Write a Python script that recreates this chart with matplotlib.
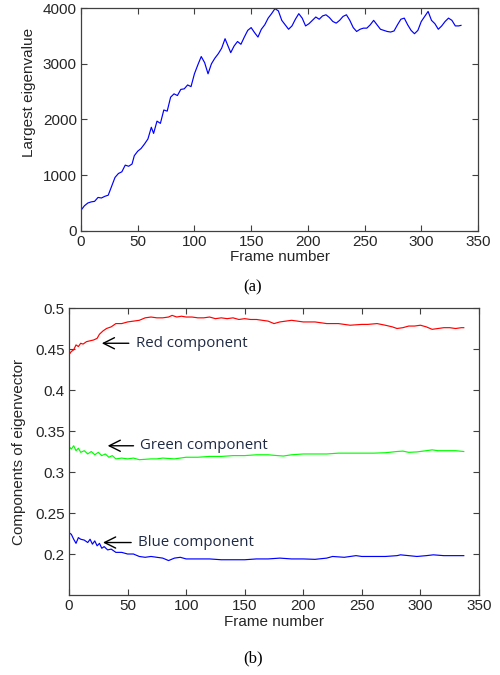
import matplotlib
matplotlib.use('Agg')
import matplotlib.pyplot as plt

plt.rcParams['font.family'] = ['Liberation Sans', 'DejaVu Sans']

# --- (a) largest eigenvalue ---
frames_a = [0, 3, 6, 9, 12, 15, 18, 21, 24, 27, 30, 33, 36, 39, 42, 45, 47, 50, 53, 56,
            59, 62, 64, 67, 70, 73, 76, 79, 82, 85, 88, 91, 94, 97, 100, 103, 106, 109, 112, 115,
            118, 121, 124, 127, 130, 132, 135, 138, 141, 144, 147, 150, 153, 156, 159, 162, 165, 168, 171, 174,
            177, 180, 183, 186, 189, 192, 195, 198, 201, 204, 207, 210, 213, 216, 219, 222, 225, 228, 231, 234,
            237, 240, 243, 246, 249, 252, 255, 258, 261, 264, 267, 270, 273, 276, 279, 282, 285, 288, 291, 294,
            297, 300, 303, 306, 309, 312, 315, 318, 321, 324, 327, 330, 333, 335]
eigval = [370, 450, 500, 520, 530, 600, 590, 620, 640, 800, 960, 1030, 1060, 1180, 1160, 1200, 1350, 1430, 1480, 1560,
          1650, 1860, 1750, 1970, 1930, 2170, 2150, 2400, 2460, 2430, 2540, 2550, 2620, 2590, 2820, 2980, 3130, 3020, 2820, 3000,
          3100, 3180, 3280, 3450, 3300, 3200, 3320, 3400, 3350, 3480, 3600, 3650, 3560, 3480, 3620, 3700, 3820, 3900, 3990, 3950,
          3780, 3700, 3620, 3680, 3800, 3900, 3820, 3680, 3720, 3780, 3840, 3800, 3860, 3880, 3830, 3760, 3730, 3780, 3850, 3880,
          3780, 3650, 3580, 3620, 3640, 3640, 3700, 3780, 3700, 3620, 3600, 3580, 3570, 3590, 3700, 3800, 3820, 3700, 3600, 3540,
          3600, 3760, 3850, 3940, 3780, 3720, 3620, 3680, 3760, 3820, 3780, 3680, 3680, 3690]

# --- (b) eigenvector components ---
frames_r = [0, 2, 4, 6, 8, 10, 12, 15, 18, 21, 24, 26, 29, 32, 36, 40, 45, 50, 55, 60,
            65, 70, 75, 80, 85, 88, 92, 96, 100, 105, 110, 115, 120, 125, 130, 135, 140, 145, 150, 155,
            160, 165, 170, 175, 180, 185, 190, 195, 200, 210, 215, 220, 230, 240, 250, 255, 263, 270, 276, 280,
            285, 290, 295, 300, 305, 310, 315, 320, 325, 330, 335, 337]
red = [0.443, 0.447, 0.449, 0.455, 0.453, 0.457, 0.456, 0.459, 0.460, 0.461, 0.463, 0.468, 0.472, 0.475, 0.477, 0.481, 0.481, 0.483, 0.484, 0.485,
       0.488, 0.489, 0.488, 0.488, 0.489, 0.491, 0.489, 0.490, 0.489, 0.489, 0.488, 0.488, 0.489, 0.487, 0.488, 0.487, 0.488, 0.486, 0.487, 0.486,
       0.486, 0.485, 0.484, 0.481, 0.483, 0.484, 0.485, 0.484, 0.483, 0.483, 0.482, 0.481, 0.481, 0.479, 0.480, 0.480, 0.481, 0.479, 0.477, 0.475,
       0.476, 0.478, 0.478, 0.479, 0.477, 0.474, 0.475, 0.476, 0.476, 0.475, 0.476, 0.476]

frames_g = [0, 2, 4, 6, 8, 10, 13, 16, 19, 22, 25, 28, 31, 34, 37, 40, 45, 50, 55, 60,
            65, 70, 75, 80, 90, 100, 110, 120, 130, 140, 150, 160, 170, 178, 183, 190, 200, 210, 220, 230,
            240, 250, 260, 270, 280, 285, 290, 297, 305, 310, 315, 320, 330, 337]
green = [0.331, 0.328, 0.332, 0.326, 0.329, 0.324, 0.326, 0.322, 0.325, 0.321, 0.324, 0.320, 0.322, 0.318, 0.320, 0.316, 0.317, 0.316, 0.317, 0.315,
         0.3155, 0.316, 0.316, 0.317, 0.316, 0.318, 0.318, 0.319, 0.319, 0.320, 0.320, 0.321, 0.321, 0.320, 0.3195, 0.321, 0.322, 0.322, 0.322, 0.323,
         0.323, 0.323, 0.323, 0.3235, 0.325, 0.3255, 0.324, 0.3245, 0.326, 0.327, 0.326, 0.326, 0.326, 0.325]

frames_b = [0, 2, 4, 6, 8, 10, 13, 16, 18, 20, 22, 24, 26, 28, 30, 33, 36, 40, 45, 50,
            55, 60, 65, 70, 75, 80, 85, 90, 95, 100, 110, 120, 130, 140, 150, 160, 170, 180, 190, 200,
            210, 220, 225, 235, 245, 250, 260, 270, 280, 283, 290, 297, 305, 311, 320, 330, 337]
blue = [0.226, 0.224, 0.218, 0.213, 0.220, 0.218, 0.217, 0.214, 0.218, 0.212, 0.216, 0.210, 0.213, 0.207, 0.209, 0.205, 0.206, 0.202, 0.202, 0.200,
        0.200, 0.197, 0.196, 0.197, 0.196, 0.195, 0.192, 0.195, 0.196, 0.194, 0.194, 0.194, 0.193, 0.193, 0.193, 0.194, 0.194, 0.195, 0.194, 0.194,
        0.1935, 0.195, 0.197, 0.196, 0.198, 0.197, 0.197, 0.197, 0.198, 0.199, 0.198, 0.197, 0.198, 0.199, 0.198, 0.198, 0.198]

# 注釈: (ラベル, 矢印の先, テキスト位置)
notes = [('Red component', (28, 0.457), (57, 0.457)),
         ('Green component', (33, 0.332), (61, 0.332)),
         ('Blue component', (29, 0.214), (59, 0.214))]

txt_col = '#262626'
fig = plt.figure(figsize=(5, 6.75), dpi=100)

def style(ax):
    ax.tick_params(direction='in', top=True, right=True, length=4, labelsize=11,
                   colors='#404040', labelcolor=txt_col, pad=3)
    for s in ax.spines.values():
        s.set_color('#404040')
        s.set_linewidth(0.9)

ax1 = fig.add_axes([0.162, 0.658, 0.794, 0.330])
ax1.plot(frames_a, eigval, color='#0000ff', linewidth=0.85)
ax1.set_xlim(0, 350)
ax1.set_ylim(0, 4000)
ax1.set_xticks(range(0, 351, 50))
ax1.set_yticks(range(0, 4001, 1000))
style(ax1)
ax1.set_xlabel('Frame number', fontsize=11, color=txt_col, labelpad=1)
ax1.set_ylabel('Largest eigenvalue', fontsize=11, color=txt_col)
ax1.yaxis.set_label_coords(-0.113, 0.62)

ax2 = fig.add_axes([0.138, 0.1185, 0.82, 0.4252])
ax2.plot(frames_r, red, color='#ff0000', linewidth=0.85)
ax2.plot(frames_g, green, color='#00ff00', linewidth=0.85)
ax2.plot(frames_b, blue, color='#0000ff', linewidth=0.85)
ax2.set_xlim(0, 350)
ax2.set_ylim(0.15, 0.5)
ax2.set_xticks(range(0, 351, 50))
ax2.set_yticks([0.2, 0.25, 0.3, 0.35, 0.4, 0.45, 0.5])
ax2.set_yticklabels(['0.2', '0.25', '0.3', '0.35', '0.4', '0.45', '0.5'])
style(ax2)
ax2.set_xlabel('Frame number', fontsize=11, color=txt_col, labelpad=1)
ax2.set_ylabel('Components of eigenvector', fontsize=11, color=txt_col)
ax2.yaxis.set_label_coords(-0.106, 0.5)

for label, head, pos in notes:
    ax2.annotate(label, xy=head, xytext=pos, fontsize=10.8, color='#1f2a44',
                 family=['Open Sans', 'DejaVu Sans'], va='center', ha='left',
                 arrowprops=dict(arrowstyle='->', color='black', lw=1,
                                 shrinkA=3, shrinkB=0, mutation_scale=20))

fig.text(0.506, 1 - 287 / 675, '(a)', ha='center', va='center', fontsize=12,
         family=['Liberation Serif', 'DejaVu Serif'])
fig.text(0.506, 1 - 658 / 675, '(b)', ha='center', va='center', fontsize=12,
         family=['Liberation Serif', 'DejaVu Serif'])

fig.savefig('out.png', dpi=100)
